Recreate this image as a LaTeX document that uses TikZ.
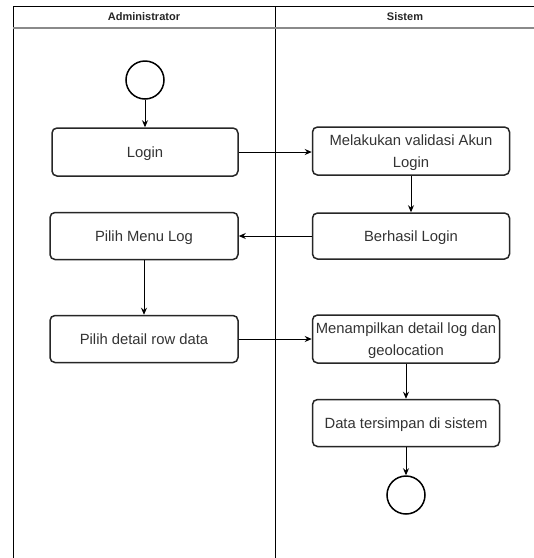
\documentclass[tikz,border=0pt]{standalone}
\usepackage{fontspec}
\setmainfont{Liberation Sans}
\usetikzlibrary{arrows.meta}
\definecolor{txt}{HTML}{333333}
\definecolor{sepgray}{HTML}{8A8A8A}
\begin{document}
\begin{tikzpicture}[x=1pt,y=-1pt,
  lane/.style={draw=black,line width=1pt},
  act/.style={draw=black!85,line width=1.5pt,rounded corners=5pt,fill=white,
    text=txt,font=\fontsize{14.8}{22}\selectfont,align=center,inner sep=0pt,
    text depth=0pt},
  terminal/.style={circle,draw=black,line width=1.5pt,minimum size=38pt,inner sep=0pt},
  flow/.style={draw=black,line width=1pt,-{Stealth[length=7pt,width=6pt]}},
  head/.style={font=\bfseries\fontsize{11}{13}\selectfont,text=black!85}]
  \useasboundingbox (0,0) rectangle (534,558);

  % swimlanes
  \draw[lane] (534,6) -- (13,6) -- (13,558);
  \draw[lane] (275,6) -- (275,558);
  \draw[draw=sepgray,line width=2pt] (13,28) -- (534,28);
  \node[head] (hadmin) at (144,17) {Administrator};
  \node[head] (hsys) at (405,17) {Sistem};

  % activities
  \node[terminal] (start) at (145,80) {};
  \node[act,minimum width=186pt,minimum height=48pt] (login) at (145,152) {Login};
  \node[act,minimum width=197pt,minimum height=48pt] (valid) at (411,151) {Melakukan validasi Akun\\Login};
  \node[act,minimum width=197pt,minimum height=46pt] (ok) at (411,236) {Berhasil Login};
  \node[act,minimum width=188pt,minimum height=47pt] (menu) at (144,236) {Pilih Menu Log};
  \node[act,minimum width=188pt,minimum height=47pt] (row) at (144,339) {Pilih detail row data};
  \node[act,minimum width=187pt,minimum height=48pt] (show) at (406,339) {Menampilkan detail log dan\\geolocation};
  \node[act,minimum width=187pt,minimum height=47pt] (save) at (406,423) {Data tersimpan di sistem};
  \node[terminal] (end) at (406,495) {};

  % control flow
  \draw[flow] (start) -- (login);
  \draw[flow] (login.east |- 0,152) -- (valid.west |- 0,152);
  \draw[flow] (valid) -- (ok);
  \draw[flow] (ok) -- (menu);
  \draw[flow] (menu) -- (row);
  \draw[flow] (row) -- (show);
  \draw[flow] (show) -- (save);
  \draw[flow] (save) -- (end);
\end{tikzpicture}
\end{document}
